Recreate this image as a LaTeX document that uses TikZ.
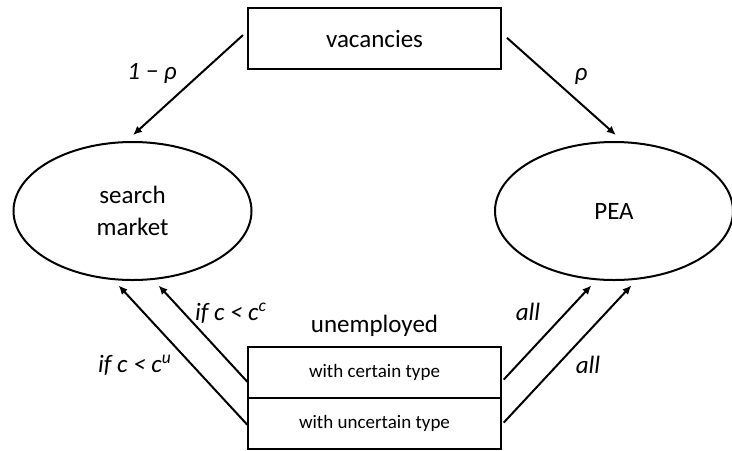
\documentclass[tikz,border=0pt]{standalone}
\usepackage{fontspec}
\setmainfont{Carlito}
\usetikzlibrary{arrows.meta, positioning, shapes.geometric}

\begin{document}
\begin{tikzpicture}[x=0.5pt, y=-0.5pt, line width=1pt,
    box/.style={draw, rectangle, text centered, minimum width=126.5pt, inner sep=0pt, outer sep=0pt},
    market/.style={draw, ellipse, align=center, minimum width=119pt, minimum height=69pt, inner sep=0pt},
    flow/.style={-{Latex[length=4.5pt, width=4pt]}},
    big/.style={font=\fontsize{12.5}{16}\selectfont},
    lbl/.style={font=\fontsize{12.5}{15}\selectfont\itshape, inner sep=0pt}]

    \useasboundingbox (0,0) rectangle (732,450);

    % Nodes for vacancies and the two places to search
    \node (vacancies) [box, big, minimum height=30.5pt] at (374.5,38.5) {vacancies};
    \node (search) [market, big] at (132.5,211) {search\\market};
    \node (pea) [market, big] at (614,211) {PEA};

    % Nodes for the unemployed, split by type
    \node (certain) [box, minimum height=25.5pt, font=\fontsize{9.5}{11}\selectfont] at (374.5,372.5) {with certain type};
    \node (uncertain) [box, minimum height=25.5pt, font=\fontsize{9.5}{11}\selectfont, below=0pt of certain] {with uncertain type};
    \node (unemployed) [big, inner sep=0pt, above=4.5pt of certain] {unemployed};

    % Draw arrows from vacancies to each market
    \draw[flow, shorten <=3.4pt, shorten >=4.4pt] ([yshift=4pt]vacancies.west) -- ([xshift=-3pt]search.north);
    \draw[flow, shorten <=4pt, shorten >=4.5pt] ([yshift=3pt]vacancies.east) -- ([xshift=4.3pt]pea.north);

    % Draw arrows from the unemployed to each market
    \draw[flow, shorten <=0.5pt, shorten >=3pt] ([yshift=-5pt]certain.west) -- ([xshift=11pt]search.south);
    \draw[flow, shorten <=0.5pt, shorten >=3pt] ([yshift=-1pt]uncertain.west) -- ([xshift=-9pt]search.south);
    \draw[flow, shorten <=2pt, shorten >=3pt] ([yshift=-5pt]certain.east) -- ([xshift=-9.3pt]pea.south);
    \draw[flow, shorten <=2pt, shorten >=3pt] ([yshift=-1pt]uncertain.east) -- ([xshift=10.75pt]pea.south);

    % Labels of the arrows
    \node (shareSearch) [lbl] at (152,73) {1 − ρ};
    \node (sharePea) [lbl] at (581,76) {ρ};
    \node (ifCertain) [lbl] at (231,313) {if c < c\textsuperscript{c}};
    \node (ifUncertain) [lbl] at (135,365) {if c < c\textsuperscript{u}};
    \node (allCertain) [lbl] at (528,312) {all};
    \node (allUncertain) [lbl] at (588,365) {all};

\end{tikzpicture}
\end{document}
